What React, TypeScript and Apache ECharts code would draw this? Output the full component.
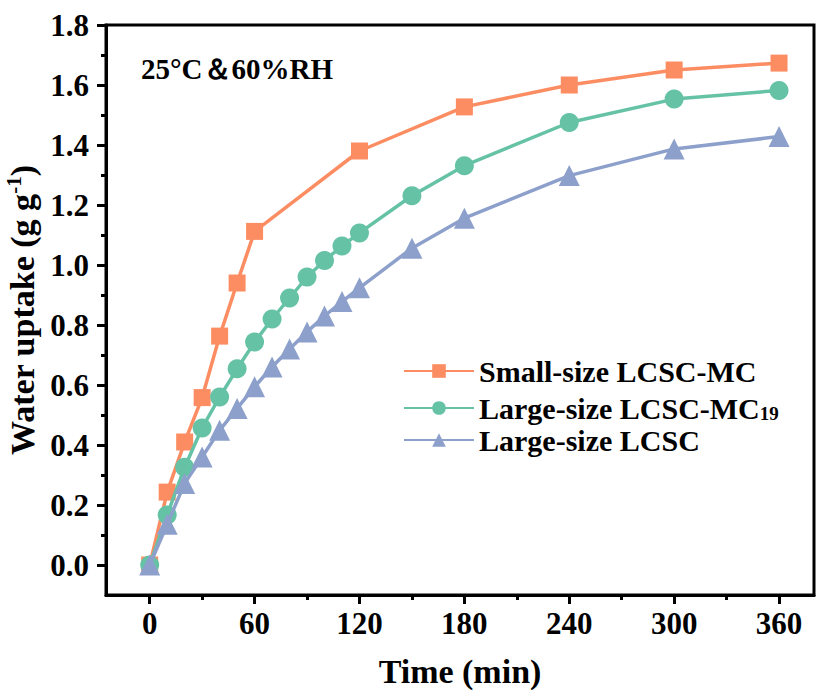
import React, { useEffect, useRef } from "react";
import * as echarts from "echarts";

const timeSmall = [0, 10, 20, 30, 40, 50, 60, 120, 180, 240, 300, 360];
const smallMC = [0, 0.243, 0.41, 0.558, 0.763, 0.94, 1.112, 1.38, 1.527, 1.6, 1.65, 1.673];
const timeLarge = [0, 10, 20, 30, 40, 50, 60, 70, 80, 90, 100, 110, 120, 150, 180, 240, 300, 360];
const largeMC19 = [0, 0.167, 0.326, 0.457, 0.56, 0.654, 0.743, 0.82, 0.89, 0.96, 1.015, 1.063, 1.107, 1.231, 1.331, 1.475, 1.553, 1.582];
const largeLCSC = [0, 0.136, 0.272, 0.36, 0.449, 0.522, 0.594, 0.66, 0.72, 0.777, 0.83, 0.878, 0.924, 1.056, 1.156, 1.298, 1.387, 1.428];
const xMajor = [0, 60, 120, 180, 240, 300, 360];
const xMinor = [30, 90, 150, 210, 270, 330];
const yMajor = [0, 0.2, 0.4, 0.6, 0.8, 1.0, 1.2, 1.4, 1.6, 1.8];
const yMinor = [0.1, 0.3, 0.5, 0.7, 0.9, 1.1, 1.3, 1.5, 1.7];
const seriesNames = ["Small-size LCSC-MC", "Large-size LCSC-MC19", "Large-size LCSC"];
const colors = ["#fc8d62", "#66c2a5", "#8da0cb"];

const FONT = "'Liberation Serif', 'Times New Roman', serif";

export default function App() {
  const ref = useRef<HTMLDivElement>(null);
  useEffect(() => {
    if (!ref.current) return;
    const chart = echarts.init(ref.current, undefined, { renderer: "svg" });
    const pair = (xs: number[], ys: number[]) => xs.map((x, i) => [x, ys[i]]);
    const axisText = { fontFamily: FONT, fontWeight: "bold" as const, fontSize: 31, color: "#000" };
    chart.setOption({
      animation: false,
      backgroundColor: "#fff",
      grid: { left: 106, right: 3, top: 25, bottom: 96, show: true, borderColor: "#000", borderWidth: 3, containLabel: false, outerBoundsMode: "none" },
      xAxis: [
        {
          type: "value", min: -25, max: 380,
          axisLine: { onZero: false, lineStyle: { color: "#000", width: 3 } },
          axisTick: { customValues: xMajor, length: 9, lineStyle: { width: 3, color: "#000" } },
          axisLabel: { customValues: xMajor, margin: 13, ...axisText },
          splitLine: { show: false },
          name: "Time (min)", nameLocation: "middle", nameGap: 59,
          nameTextStyle: { ...axisText, fontSize: 34 },
        },
        {
          type: "value", min: -25, max: 380, position: "bottom",
          axisLine: { show: false, onZero: false },
          axisTick: { customValues: xMinor, length: 5, lineStyle: { width: 3, color: "#000" } },
          axisLabel: { show: false },
          splitLine: { show: false },
        },
      ],
      yAxis: [
        {
          type: "value", min: -0.1, max: 1.8,
          axisLine: { onZero: false, lineStyle: { color: "#000", width: 3 } },
          axisTick: { customValues: yMajor, length: 9, lineStyle: { width: 3, color: "#000" } },
          axisLabel: { customValues: yMajor, margin: 17, formatter: (v: number) => v.toFixed(1), ...axisText },
          splitLine: { show: false },
          name: "Water uptake (g g{sup|-1})", nameLocation: "middle", nameGap: 55,
          nameTextStyle: {
            ...axisText, fontSize: 34,
            rich: { sup: { fontFamily: FONT, fontWeight: "bold", fontSize: 21, verticalAlign: "top", padding: [0, 0, 16, 0], color: "#000" } },
          },
        },
        {
          type: "value", min: -0.1, max: 1.8, position: "left",
          axisLine: { show: false, onZero: false },
          axisTick: { customValues: yMinor, length: 5, lineStyle: { width: 3, color: "#000" } },
          axisLabel: { show: false },
          splitLine: { show: false },
        },
      ],
      legend: {
        orient: "vertical", left: 398, top: 351, itemWidth: 70, itemHeight: 17, itemGap: 2,
        data: seriesNames,
        formatter: (n: string) => (n === "Large-size LCSC-MC19" ? "Large-size LCSC-MC{sub|19}" : n),
        textStyle: {
          fontFamily: FONT, fontWeight: "bold", fontSize: 30, lineHeight: 30, color: "#000",
          rich: { sub: { fontFamily: FONT, fontWeight: "bold", fontSize: 19, lineHeight: 30, verticalAlign: "bottom", padding: [16, 0, 0, 0], color: "#000" } },
        },
      },
      graphic: [
        { type: "text", left: 141, top: 54, style: { text: "25°C＆60%RH", fontFamily: FONT, fontWeight: "bold", fontSize: 29, fill: "#000" } },
      ],
      series: [
        { name: seriesNames[0], type: "line", data: pair(timeSmall, smallMC), symbol: "rect", symbolSize: 17, color: colors[0], lineStyle: { width: 3.5 }, z: 3 },
        { name: seriesNames[1], type: "line", data: pair(timeLarge, largeMC19), symbol: "circle", symbolSize: 19, color: colors[1], lineStyle: { width: 3.5 }, z: 4 },
        { name: seriesNames[2], type: "line", data: pair(timeLarge, largeLCSC), symbol: "triangle", symbolSize: 21, color: colors[2], lineStyle: { width: 3.5 }, z: 5 },
      ],
    });
    return () => chart.dispose();
  }, []);
  return <div ref={ref} style={{ width: 817, height: 691, position: "absolute", left: 0, top: 0 }} />;
}
